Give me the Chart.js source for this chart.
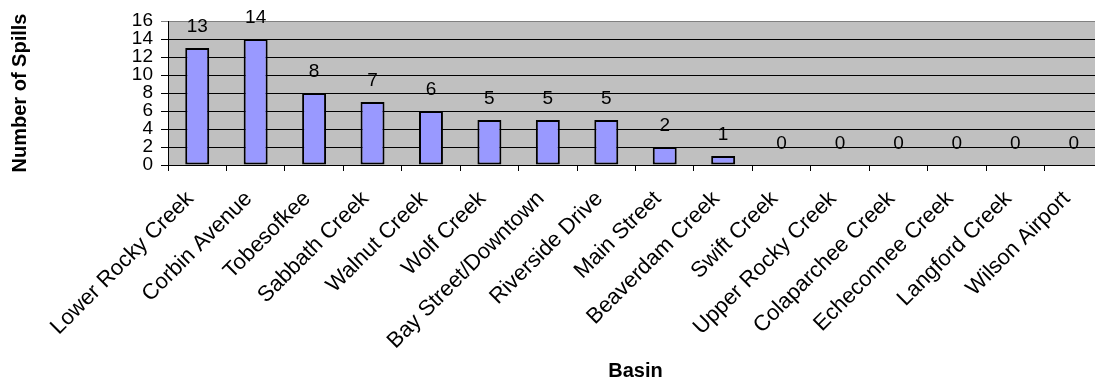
<!DOCTYPE html>
<html>
<head>
<meta charset="utf-8">
<script src="https://cdn.jsdelivr.net/npm/chart.js@4.4.1/dist/chart.umd.min.js"></script>
<style>
  html, body { margin: 0; padding: 0; overflow: hidden; background: #fff; }
  canvas { display: block; }
</style>
</head>
<body>
<canvas id="spills" width="1110" height="384"></canvas>
<script>
const basins = [
  'Lower Rocky Creek', 'Corbin Avenue', 'Tobesofkee', 'Sabbath Creek', 'Walnut Creek',
  'Wolf Creek', 'Bay Street/Downtown', 'Riverside Drive', 'Main Street', 'Beaverdam Creek',
  'Swift Creek', 'Upper Rocky Creek', 'Colaparchee Creek', 'Echeconnee Creek',
  'Langford Creek', 'Wilson Airport'
];
const spills = [13, 14, 8, 7, 6, 5, 5, 5, 2, 1, 0, 0, 0, 0, 0, 0];
const yTicks = [0, 2, 4, 6, 8, 10, 12, 14, 16];

const FONT = 'Liberation Sans, Arial, sans-serif';

// gray plot area like the old Excel charts
const plotBg = {
  id: 'plotBg',
  beforeDraw(chart) {
    const { ctx, chartArea: a } = chart;
    ctx.save();
    ctx.fillStyle = '#c0c0c0';
    ctx.fillRect(a.left, a.top, a.right - a.left, a.bottom - a.top);
    ctx.restore();
  }
};

// value labels above the bars
const valueLabels = {
  id: 'valueLabels',
  afterDatasetsDraw(chart) {
    const { ctx } = chart;
    const meta = chart.getDatasetMeta(0);
    ctx.save();
    ctx.font = '19px ' + FONT;
    ctx.fillStyle = '#000';
    ctx.textAlign = 'center';
    ctx.textBaseline = 'alphabetic';
    meta.data.forEach((bar, i) => {
      ctx.fillText(String(spills[i]), bar.x, bar.y - 16);
    });
    ctx.restore();
  }
};

new Chart(document.getElementById('spills'), {
  type: 'bar',
  data: {
    labels: basins,
    datasets: [{
      data: spills,
      backgroundColor: '#9999ff',
      borderColor: '#000',
      borderWidth: c => (spills[c.dataIndex] > 0 ? 2 : 0),
      borderSkipped: false,
      barPercentage: 0.41,
      categoryPercentage: 1
    }]
  },
  options: {
    responsive: false,
    animation: false,
    layout: { padding: { top: 21, right: 7, bottom: 0, left: 0 } },
    plugins: {
      legend: { display: false },
      tooltip: { enabled: false }
    },
    scales: {
      x: {
        grid: { drawOnChartArea: false, color: '#000', tickLength: 6, offset: true },
        border: { color: '#000', width: 1 },
        ticks: {
          color: '#000',
          font: { family: FONT, size: 22 },
          minRotation: 45,
          maxRotation: 45,
          autoSkip: false,
          padding: 15,
          labelOffset: -7
        },
        title: {
          display: true,
          text: 'Basin',
          color: '#000',
          font: { family: FONT, size: 20, weight: 'bold' },
          padding: { top: 0, bottom: 1 }
        },
        afterFit(s) { s.height = 219; }
      },
      y: {
        min: 0,
        max: 16,
        afterBuildTicks(s) { s.ticks = yTicks.map(v => ({ value: v })); },
        grid: {
          color: c => (c.tick && c.tick.value === 16 ? '#808080' : '#000'),
          tickLength: 7
        },
        border: { color: '#000', width: 1 },
        ticks: {
          color: '#000',
          font: { family: FONT, size: 19 },
          autoSkip: false,
          padding: 8
        },
        title: {
          display: true,
          text: 'Number of Spills',
          color: '#000',
          font: { family: FONT, size: 20, weight: 'bold' },
          padding: { top: 8, bottom: 0 }
        },
        afterFit(s) { s.width = 168; }
      }
    }
  },
  plugins: [plotBg, valueLabels]
});
</script>
</body>
</html>
